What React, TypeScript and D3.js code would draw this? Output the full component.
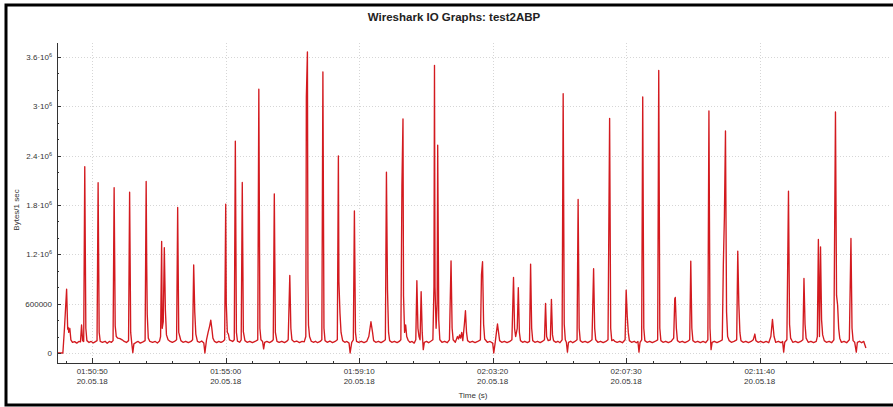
import React from "react";
import * as d3 from "d3";

// chart texts
const title = "Wireshark IO Graphs: test2ABP";
const yLabel = "Bytes/1 sec";
const xLabel = "Time (s)";
const dateLabel = "20.05.18";

// x axis: labelled ticks (every 250 s) on 20.05.18
const xTickLabels = ["01:50:50", "01:55:00", "01:59:10", "02:03:20", "02:07:30", "02:11:40"];

// y axis ticks and labels
const yTicks = [0, 600000, 1200000, 1800000, 2400000, 3000000, 3600000];
const yTickMantissa = ["0", "600000", "1.2", "1.8", "2.4", "3", "3.6"];

// samples: [seconds after 01:50:50, kBytes per second]
const samples: [number, number][] = [
  [-66, 0], [-55, 0], [-52, 300], [-48, 775], [-46, 290], [-45, 310], [-44, 250], [-42, 300],
  [-40, 160], [-37, 130], [-33, 138], [-29, 120], [-25, 140], [-22, 135], [-20, 340], [-18, 150],
  [-16, 140], [-14, 2265], [-12, 300], [-10, 150], [-6, 128], [-2, 140], [2, 122], [6, 138],
  [9, 150], [11, 2070], [13, 250], [15, 140], [19, 130], [24, 142], [28, 118], [32, 140],
  [36, 130], [39, 150], [41, 2010], [43, 330], [45, 200], [48, 180], [52, 175], [56, 160],
  [60, 140], [64, 128], [68, 150], [70, 1955], [72, 250], [74, 120], [76, 5], [78, 110],
  [82, 128], [86, 140], [90, 120], [95, 135], [99, 150], [101, 2085], [102, 1100], [103, 470],
  [105, 180], [108, 140], [113, 128], [118, 140], [122, 122], [126, 145], [128, 200], [130, 1357],
  [131, 300], [133, 380], [135, 1280], [137, 520], [139, 220], [142, 160], [146, 140], [150, 128],
  [154, 140], [158, 160], [160, 1770], [162, 250], [164, 200], [166, 150], [170, 130], [175, 142],
  [180, 125], [185, 140], [188, 160], [190, 1070], [192, 500], [194, 230], [197, 140], [201, 130],
  [205, 145], [209, 120], [211, 0], [214, 160], [217, 250], [220, 330], [222, 400], [224, 300],
  [226, 180], [229, 140], [233, 125], [237, 140], [241, 128], [245, 142], [248, 160], [250, 1810],
  [251, 610], [253, 250], [255, 230], [257, 160], [263, 140], [266, 160], [268, 2575], [270, 250],
  [272, 145], [276, 130], [279, 160], [281, 2073], [283, 260], [286, 150], [290, 130], [295, 142],
  [300, 125], [305, 140], [310, 160], [312, 3207], [314, 300], [316, 160], [319, 140], [321, 50],
  [323, 130], [327, 140], [332, 125], [336, 140], [339, 160], [341, 1935], [343, 250], [346, 140],
  [350, 128], [355, 142], [360, 125], [364, 140], [367, 160], [370, 943], [372, 300], [374, 160],
  [378, 135], [383, 145], [388, 125], [393, 140], [397, 135], [400, 200], [401, 3110], [403, 3660],
  [404, 900], [405, 340], [407, 200], [410, 145], [414, 130], [418, 142], [422, 125], [427, 140],
  [430, 160], [432, 3417], [434, 300], [436, 150], [440, 130], [445, 145], [450, 125], [455, 140],
  [459, 160], [461, 2397], [462, 866], [464, 482], [466, 250], [469, 150], [473, 130], [477, 140],
  [481, 120], [483, 0], [486, 130], [489, 160], [491, 1728], [493, 250], [495, 140], [499, 128],
  [504, 142], [509, 125], [514, 140], [518, 200], [522, 380], [525, 250], [527, 150], [531, 130],
  [536, 142], [541, 125], [545, 140], [549, 160], [551, 2198], [553, 765], [555, 250], [557, 150],
  [561, 130], [566, 142], [571, 125], [575, 140], [578, 160], [580, 2030], [582, 2846], [583, 700],
  [585, 250], [587, 340], [589, 200], [592, 150], [595, 130], [599, 140], [603, 120], [606, 160],
  [608, 878], [610, 300], [612, 200], [614, 160], [616, 745], [618, 250], [620, 40], [622, 130],
  [626, 140], [630, 125], [634, 142], [638, 160], [640, 806], [641, 3498], [642, 806], [644, 300],
  [646, 600], [647, 2526], [649, 400], [651, 160], [655, 130], [660, 142], [665, 125], [669, 160],
  [672, 1121], [674, 300], [676, 160], [680, 130], [684, 200], [686, 170], [688, 220], [690, 180],
  [692, 250], [694, 150], [697, 350], [699, 514], [701, 250], [703, 150], [707, 130], [712, 142],
  [717, 125], [722, 140], [727, 160], [729, 952], [731, 1109], [733, 350], [735, 170], [740, 130],
  [745, 140], [750, 120], [752, 0], [755, 140], [757, 250], [759, 352], [761, 250], [763, 150],
  [767, 130], [772, 142], [777, 125], [782, 140], [786, 160], [789, 919], [791, 300], [793, 200],
  [796, 300], [798, 793], [800, 250], [802, 150], [806, 130], [810, 142], [815, 125], [819, 140],
  [821, 1081], [823, 300], [825, 150], [829, 130], [834, 142], [839, 125], [843, 140], [847, 160],
  [849, 603], [851, 200], [854, 150], [858, 160], [860, 652], [862, 220], [864, 150], [868, 130],
  [872, 142], [876, 125], [880, 160], [882, 3154], [884, 350], [886, 160], [888, 130], [890, 10],
  [892, 130], [896, 142], [900, 125], [904, 140], [908, 160], [910, 1867], [912, 300], [914, 150],
  [918, 130], [923, 142], [928, 125], [932, 140], [936, 160], [939, 1024], [941, 300], [943, 160],
  [947, 130], [952, 142], [957, 125], [962, 140], [966, 160], [969, 2854], [971, 300], [973, 150],
  [976, 160], [979, 140], [983, 130], [988, 142], [993, 125], [998, 160], [1000, 765], [1002, 450],
  [1004, 250], [1006, 150], [1010, 130], [1015, 142], [1019, 125], [1022, 140], [1024, 10], [1026, 130],
  [1029, 160], [1031, 3113], [1033, 300], [1035, 150], [1039, 130], [1044, 142], [1049, 125], [1054, 140],
  [1059, 160], [1061, 3437], [1063, 300], [1065, 150], [1069, 130], [1074, 142], [1079, 125], [1084, 140],
  [1089, 180], [1091, 660], [1092, 676], [1094, 300], [1096, 150], [1100, 130], [1105, 142], [1110, 125],
  [1115, 140], [1119, 160], [1121, 1117], [1123, 300], [1125, 150], [1129, 130], [1134, 142], [1139, 125],
  [1144, 140], [1149, 125], [1153, 160], [1155, 2943], [1157, 300], [1159, 40], [1161, 130], [1165, 142],
  [1170, 125], [1175, 140], [1180, 160], [1182, 1077], [1184, 1664], [1186, 2700], [1188, 500], [1190, 200],
  [1193, 150], [1197, 130], [1202, 142], [1207, 160], [1209, 1239], [1211, 600], [1213, 250], [1215, 150],
  [1219, 130], [1224, 142], [1229, 125], [1234, 140], [1238, 160], [1241, 230], [1243, 150], [1247, 130],
  [1252, 142], [1257, 125], [1262, 140], [1267, 125], [1271, 200], [1274, 409], [1277, 200], [1280, 130],
  [1285, 142], [1290, 125], [1293, 140], [1295, 10], [1297, 130], [1301, 160], [1304, 1968], [1306, 350],
  [1308, 180], [1312, 130], [1317, 142], [1322, 125], [1327, 140], [1331, 160], [1333, 907], [1335, 350],
  [1337, 180], [1341, 130], [1346, 142], [1351, 125], [1356, 140], [1358, 200], [1360, 1381], [1362, 200],
  [1364, 1291], [1366, 400], [1368, 220], [1371, 150], [1375, 130], [1380, 142], [1385, 125], [1389, 160],
  [1392, 2931], [1394, 700], [1396, 583], [1398, 300], [1400, 180], [1403, 130], [1408, 142], [1413, 125],
  [1418, 160], [1421, 1393], [1423, 300], [1425, 150], [1428, 130], [1431, 10], [1433, 130], [1437, 142],
  [1441, 125], [1445, 140], [1449, 60],
];

const W = 893;
const H = 407;
const left = 57;
const right = 891;
const top = 43;
const bottom = 363;

const parseTime = d3.timeParse("%d.%m.%y %H:%M:%S");
const t0 = parseTime(`${dateLabel} ${xTickLabels[0]}`) as Date;
const at = (s: number) => d3.timeSecond.offset(t0, s);

const App = () => {
  const xScale = d3.scaleTime().domain([at(-66), at(1496)]).range([left, right]);
  const yScale = d3.scaleLinear().domain([-122000, 3770000]).range([bottom, top]);

  const line = d3
    .line<[number, number]>()
    .x(d => xScale(at(d[0])))
    .y(d => yScale(d[1] * 1000));

  const majorX = xTickLabels.map(l => parseTime(`${dateLabel} ${l}`) as Date);
  const minorX = d3
    .range(-1, 30)
    .map(k => at(k * 50))
    .filter(d => xScale(d) >= left && xScale(d) <= right);
  const minorY = d3.range(0, 19).map(k => k * 200000);

  const font = "'Liberation Sans', Arial, sans-serif";
  const py = (v: number) => Math.round(yScale(v)) + 0.5;
  const px = (d: Date) => Math.round(xScale(d)) + 0.5;

  return (
    <svg width={W} height={H} style={{ position: "absolute", left: 0, top: 0, background: "#fff" }} fontFamily={font}>
      <rect x={0} y={0} width={W} height={H} fill="#fff" />
      <rect x={6} y={5} width={W + 10} height={400} fill="none" stroke="#000" strokeWidth={3} />

      <text x={454} y={21} textAnchor="middle" fontSize={11.5} fontWeight="bold" fill="#222">
        {title}
      </text>

      {/* grid */}
      <g stroke="#d6d6d6" strokeWidth={1} strokeDasharray="1,2">
        {yTicks.map(v => (
          <line key={"gy" + v} x1={left} x2={right} y1={py(v)} y2={py(v)} />
        ))}
        {majorX.map((d, i) => (
          <line key={"gx" + i} x1={px(d)} x2={px(d)} y1={top} y2={bottom} />
        ))}
      </g>

      {/* data */}
      <path d={line(samples) || ""} fill="none" stroke="#d31a1f" strokeWidth={1.35} strokeLinejoin="round" />

      {/* axes */}
      <g stroke="#333" strokeWidth={1}>
        <line x1={left + 0.5} x2={left + 0.5} y1={top} y2={bottom + 0.5} />
        <line x1={left} x2={W} y1={bottom + 0.5} y2={bottom + 0.5} />
        {yTicks.map(v => (
          <line key={"ty" + v} x1={left} x2={left + 4} y1={py(v)} y2={py(v)} />
        ))}
        {minorY.map(v => (
          <line key={"my" + v} x1={left} x2={left + 2} y1={py(v)} y2={py(v)} />
        ))}
        {majorX.map((d, i) => (
          <line key={"tx" + i} x1={px(d)} x2={px(d)} y1={bottom - 5} y2={bottom} />
        ))}
        {minorX.map((d, i) => (
          <line key={"mx" + i} x1={px(d)} x2={px(d)} y1={bottom - 2} y2={bottom} />
        ))}
      </g>

      {/* y tick labels */}
      <g fontSize={8} fill="#333" textAnchor="end">
        {yTicks.map((v, i) => (
          <text key={"ly" + v} x={52} y={yScale(v) + 3}>
            {v >= 1200000 ? (
              <>
                {yTickMantissa[i]}·10
                <tspan fontSize={5.5} dy={-3}>6</tspan>
              </>
            ) : (
              yTickMantissa[i]
            )}
          </text>
        ))}
      </g>

      {/* x tick labels */}
      <g fontSize={8} fill="#333" textAnchor="middle">
        {majorX.map((d, i) => (
          <g key={"lx" + i}>
            <text x={xScale(d)} y={374}>{xTickLabels[i]}</text>
            <text x={xScale(d)} y={384}>{dateLabel}</text>
          </g>
        ))}
      </g>

      <text x={473} y={398} fontSize={8} fill="#333" textAnchor="middle">{xLabel}</text>
      <text transform="translate(19,210) rotate(-90)" fontSize={8} fill="#333" textAnchor="middle">{yLabel}</text>
    </svg>
  );
};

export default App;
